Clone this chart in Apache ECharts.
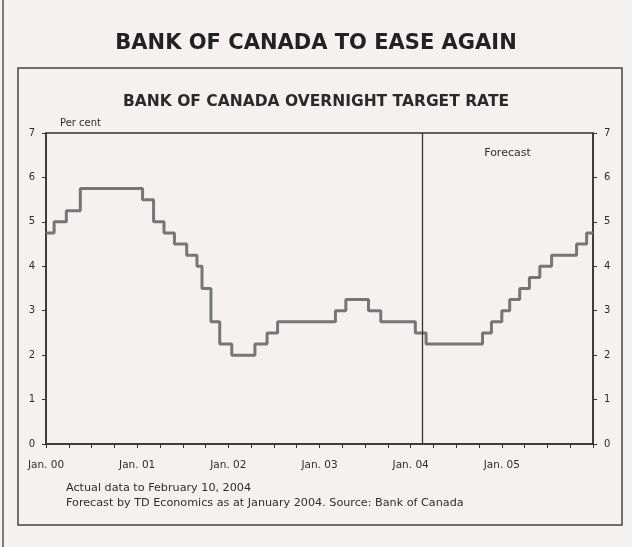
<!DOCTYPE html>
<html>
<head>
<meta charset="utf-8">
<script src="https://cdn.jsdelivr.net/npm/echarts@6/dist/echarts.min.js"></script>
<style>
html,body{margin:0;padding:0;background:#f4f2f0;}
#c{width:632px;height:547px;}
</style>
</head>
<body>
<div id="c"></div>
<script>
// ---- data ----
var actualDates = ['2000-01-01','2000-02-03','2000-03-22','2000-05-17','2001-01-23','2001-03-06','2001-04-17','2001-05-29','2001-07-17','2001-08-28','2001-09-17','2001-10-23','2001-11-27','2002-01-15','2002-04-16','2002-06-04','2002-07-16','2003-03-04','2003-04-15','2003-07-15','2003-09-03','2004-01-20','2004-03-02'];
var actualRates = [4.75,5.00,5.25,5.75,5.50,5.00,4.75,4.50,4.25,4.00,3.50,2.75,2.25,2.00,2.25,2.50,2.75,3.00,3.25,3.00,2.75,2.50,2.25];
var forecastDates = ['2004-10-15','2004-11-20','2005-01-01','2005-02-02','2005-03-12','2005-04-20','2005-06-01','2005-07-18','2005-10-27','2005-12-06'];
var forecastRates = [2.50,2.75,3.00,3.25,3.50,3.75,4.00,4.25,4.50,4.75];
var axisStart = '2000-01-01';
var axisEnd = '2006-01-01';
var forecastStartDate = '2004-02-15';
var yearLabels = ['Jan. 00','Jan. 01','Jan. 02','Jan. 03','Jan. 04','Jan. 05'];
var yTicks = [0,1,2,3,4,5,6,7];

// months since Jan 2000 (fractional)
function monthIndex(s){
  var p = s.split('-').map(Number);
  var dim = new Date(p[0], p[1], 0).getDate();
  return (p[0]-2000)*12 + (p[1]-1) + (p[2]-1)/dim;
}
var allDates = actualDates.concat(forecastDates);
var allRates = actualRates.concat(forecastRates);
var lineData = allDates.map(function(d,i){ return [monthIndex(d), allRates[i]]; });
lineData.push([monthIndex(axisEnd), allRates[allRates.length-1]]);
var xMin = monthIndex(axisStart), xMax = monthIndex(axisEnd);
var fStart = monthIndex(forecastStartDate);

var txt = '#2e2e2e';
var sf = 'DejaVu Sans';
var chart = echarts.init(document.getElementById('c'));
chart.setOption({
  backgroundColor: '#f4f2f0',
  animation: false,
  title: [
    {text:'BANK OF CANADA TO EASE AGAIN', left:'center', top:28,
     textStyle:{fontFamily:sf, fontWeight:'bold', fontSize:21, color:'#222'}},
    {text:'BANK OF CANADA OVERNIGHT TARGET RATE', left:'center', top:89,
     textStyle:{fontFamily:sf, fontWeight:'bold', fontSize:15.5, color:'#2a2a2a'}}
  ],
  graphic: [
    {type:'rect', shape:{x:18, y:68, width:604, height:457}, style:{fill:'none', stroke:'#444', lineWidth:1.5}, z:-1},
    {type:'line', shape:{x1:3, y1:0, x2:3, y2:547}, style:{stroke:'#555', lineWidth:1.5}},
    {type:'text', left:66, top:483, style:{text:'Actual data to February 10, 2004', fontFamily:sf, fontSize:11.2, fill:txt}},
    {type:'text', left:66, top:498, style:{text:'Forecast by TD Economics as at January 2004. Source: Bank of Canada', fontFamily:sf, fontSize:11.2, fill:txt}}
  ],
  grid: {left:46, right:39, top:133, bottom:103, show:true, borderColor:'#333', borderWidth:1.5, backgroundColor:'transparent'},
  xAxis: {
    type:'value', min:xMin, max:xMax, interval:3,
    axisLine:{show:true, lineStyle:{color:'#333', width:1.5}},
    axisTick:{show:true, length:4, lineStyle:{color:'#333'}},
    splitLine:{show:false},
    axisLabel:{margin:16, fontFamily:sf, fontSize:10.5, color:txt,
      formatter:function(v){ var k = Math.round(v); if(k%12!==0) return ''; return yearLabels[k/12] || ''; }}
  },
  yAxis: [
    {type:'value', min:0, max:7, interval:1, position:'left',
     name:'Per cent', nameLocation:'end', nameGap:5,
     nameTextStyle:{fontFamily:sf, fontSize:10, color:txt, align:'left', padding:[0,0,0,14]},
     axisLine:{show:true, lineStyle:{color:'#333', width:1.5}},
     axisTick:{show:true, length:4, lineStyle:{color:'#333'}},
     splitLine:{show:false},
     axisLabel:{margin:11, fontFamily:sf, fontSize:10, color:txt,
       formatter:function(v){ return yTicks.indexOf(v)>=0 ? String(v) : ''; }}},
    {type:'value', min:0, max:7, interval:1, position:'right',
     axisLine:{show:true, lineStyle:{color:'#333', width:1.5}},
     axisTick:{show:true, length:4, lineStyle:{color:'#333'}},
     splitLine:{show:false},
     axisLabel:{margin:11, fontFamily:sf, fontSize:10, color:txt}}
  ],
  series: [{
    type:'line', step:'end', showSymbol:false, data:lineData, yAxisIndex:0,
    lineStyle:{color:'#767676', width:3}, z:3,
    markLine:{silent:true, symbol:'none', label:{show:false},
      lineStyle:{color:'#333', width:1.3, type:'solid'},
      data:[{xAxis:fStart}]},
    markArea:{silent:true, itemStyle:{color:'rgba(0,0,0,0)'},
      label:{show:true, position:'insideTop', distance:15, fontFamily:sf, fontSize:11, color:txt},
      data:[[{name:'Forecast', xAxis:fStart}, {xAxis:xMax}]]}
  }]
});
</script>
</body>
</html>
